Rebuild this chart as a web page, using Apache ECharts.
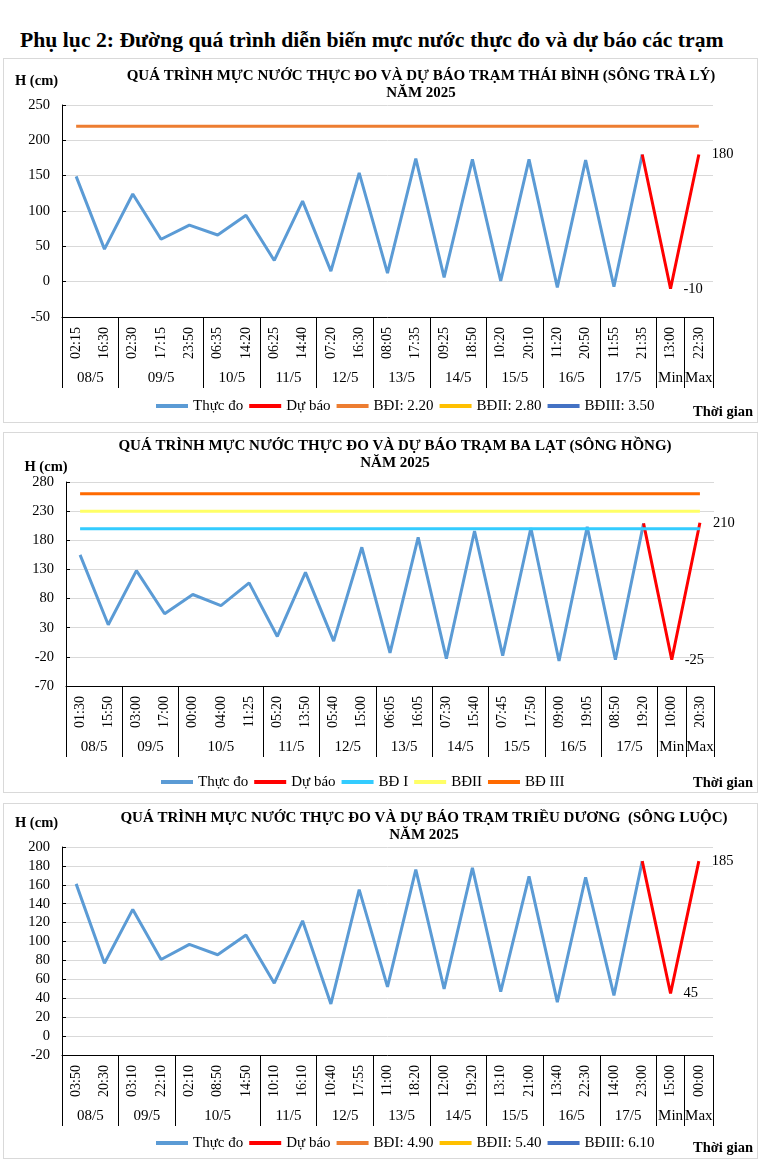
<!DOCTYPE html>
<html><head><meta charset="utf-8">
<script src="https://cdn.jsdelivr.net/npm/echarts@6/dist/echarts.min.js"></script>
<style>
body{margin:0;background:#fff;width:762px;height:1166px;position:relative;overflow:hidden;font-family:'Liberation Serif','Times New Roman',serif}
#pageTitle{position:absolute;left:20px;top:27px;font-weight:bold;font-size:21.7px;white-space:nowrap;color:#000;line-height:26px}
.panel{position:absolute;left:3px;width:755px;border:1px solid #d9d9d9;box-sizing:border-box;background:#fff}
.panel > div{width:100%;height:100%}
</style></head><body>
<div id="pageTitle">Phụ lục 2: Đường quá trình diễn biến mực nước thực đo và dự báo các trạm</div>
<div class="panel" style="top:58px;height:365px"><div id="c1"></div></div>
<div class="panel" style="top:432px;height:361px"><div id="c2"></div></div>
<div class="panel" style="top:803px;height:356px"><div id="c3"></div></div>
<script>
// ---------- DATA: Trạm Thái Bình (sông Trà Lý) ----------
const title1 = 'QUÁ TRÌNH MỰC NƯỚC THỰC ĐO VÀ DỰ BÁO TRẠM THÁI BÌNH (SÔNG TRÀ LÝ)\nNĂM 2025';
const times1 = ['02:15','16:30','02:30','17:15','23:50','06:35','14:20','06:25','14:40','07:20','16:30','08:05','17:35','09:25','18:50','10:20','20:10','11:20','20:50','11:55','21:35','13:00','22:30'];
const dates1 = ['08/5','08/5','09/5','09/5','09/5','10/5','10/5','11/5','11/5','12/5','12/5','13/5','13/5','14/5','14/5','15/5','15/5','16/5','16/5','17/5','17/5','Min','Max'];
const measured1 = [149,46,124,60,80,66,94,30,114,15,154,12,174,6,173,1,173,-8,172,-7,180,null,null];
const forecast1 = [null,null,null,null,null,null,null,null,null,null,null,null,null,null,null,null,null,null,null,null,180,-10,180];
const levelNames1 = ['BĐI: 2.20','BĐII: 2.80','BĐIII: 3.50'];
const levelValues1 = [220,280,350];
const yTicks1 = [-50,0,50,100,150,200,250];

// ---------- DATA: Trạm Ba Lạt (sông Hồng) ----------
const title2 = 'QUÁ TRÌNH MỰC NƯỚC THỰC ĐO VÀ DỰ BÁO TRẠM BA LẠT (SÔNG HỒNG)\nNĂM 2025';
const times2 = ['01:30','15:50','03:00','17:00','00:00','04:00','11:25','05:20','13:50','05:40','15:00','06:05','16:05','07:30','15:40','07:45','17:50','09:00','19:05','08:50','19:20','10:00','20:30'];
const dates2 = ['08/5','08/5','09/5','09/5','10/5','10/5','10/5','11/5','11/5','12/5','12/5','13/5','13/5','14/5','14/5','15/5','15/5','16/5','16/5','17/5','17/5','Min','Max'];
const measured2 = [155,35,128,54,87,68,107,15,125,7,168,-13,185,-23,196,-18,201,-27,203,-25,209,null,null];
const forecast2 = [null,null,null,null,null,null,null,null,null,null,null,null,null,null,null,null,null,null,null,null,209,-25,210];
const levelNames2 = ['BĐ I','BĐII','BĐ III'];
const levelValues2 = [200,230,260];
const yTicks2 = [-70,-20,30,80,130,180,230,280];

// ---------- DATA: Trạm Triều Dương (sông Luộc) ----------
const title3 = 'QUÁ TRÌNH MỰC NƯỚC THỰC ĐO VÀ DỰ BÁO TRẠM TRIỀU DƯƠNG  (SÔNG LUỘC)\nNĂM 2025';
const times3 = ['03:50','20:30','03:10','22:10','02:10','08:50','14:50','10:10','16:10','10:40','17:55','11:00','18:20','12:00','19:20','13:10','21:00','13:40','22:30','14:00','23:00','15:00','00:00'];
const dates3 = ['08/5','08/5','09/5','09/5','10/5','10/5','10/5','11/5','11/5','12/5','12/5','13/5','13/5','14/5','14/5','15/5','15/5','16/5','16/5','17/5','17/5','Min','Max'];
const measured3 = [161,77,134,81,97,86,107,56,122,34,155,52,176,50,178,47,169,36,168,43,185,null,null];
const forecast3 = [null,null,null,null,null,null,null,null,null,null,null,null,null,null,null,null,null,null,null,null,185,45,185];
const levelNames3 = ['BĐI: 4.90','BĐII: 5.40','BĐIII: 6.10'];
const levelValues3 = [490,540,610];
const yTicks3 = [-20,0,20,40,60,80,100,120,140,160,180,200];

// ---------- STYLE / LAYOUT ----------
const FONT = "'Liberation Serif','Times New Roman',serif";
const MEASURED_COLOR = '#5B9BD5';
const FORECAST_COLOR = '#FF0000';

function groupsOf(dates){
  const g = [];
  dates.forEach((d,i)=>{
    if(!g.length || g[g.length-1].name !== d) g.push({name:d,start:i,count:1});
    else g[g.length-1].count++;
  });
  return g;
}

function buildOption(c){
  const n = c.times.length;
  const gs = groupsOf(c.dates);
  const starts = new Set(gs.map(g=>g.start));
  const groupAxis = new Array(2*n+1).fill('');
  gs.forEach(g=>{ groupAxis[2*g.start+g.count] = g.name; });
  const lineBase = {type:'line', symbol:'none', smooth:false, connectNulls:false, xAxisIndex:0, yAxisIndex:0};
  const series = [
    Object.assign({}, lineBase, {name:'Thực đo', data:c.measured, color:MEASURED_COLOR, lineStyle:{width:3, color:MEASURED_COLOR}}),
    Object.assign({}, lineBase, {name:'Dự báo', data:c.forecast, color:FORECAST_COLOR, lineStyle:{width:3, color:FORECAST_COLOR},
      symbol:'circle', symbolSize:0.001, showSymbol:true,
      label:{show:true, position:'right', distance:13, fontSize:14.5, fontFamily:FONT, color:'#000',
        formatter:p=> p.dataIndex >= n-2 ? String(p.value) : ''}})
  ];
  c.levelNames.forEach((nm,k)=>{
    const v = c.levelValues[k];
    series.push(Object.assign({}, lineBase, {name:nm, data:c.times.map(()=>v), color:c.levelColors[k], lineStyle:{width:3, color:c.levelColors[k]}}));
  });
  return {
    animation:false,
    backgroundColor:'#fff',
    title:[
      {text:c.title, left:c.titleX, top:c.titleY, textAlign:'center', textVerticalAlign:'middle', padding:0,
        textStyle:{fontSize:15, fontWeight:'bold', fontFamily:FONT, color:'#000', lineHeight:17}},
      {text:'H (cm)', left:c.hX, top:c.hY, textAlign:'center', textVerticalAlign:'middle', padding:0,
        textStyle:{fontSize:14.5, fontWeight:'bold', fontFamily:FONT, color:'#000'}},
      {text:'Thời gian', left:749, top:c.tgY, textAlign:'right', textVerticalAlign:'middle', padding:0,
        textStyle:{fontSize:14.5, fontWeight:'bold', fontFamily:FONT, color:'#000'}}
    ],
    legend:{left:c.legendX, top:c.legendY, padding:0, itemWidth:32, itemHeight:4, itemGap:6, icon:'rect',
      textStyle:{fontSize:15, fontFamily:FONT, color:'#000'},
      data:series.map(s=>s.name)},
    grid:{left:c.grid[0], right:c.grid[1], top:c.grid[2], bottom:c.grid[3], containLabel:false, outerBoundsMode:'none'},
    xAxis:[
      {type:'category', data:c.times, position:'bottom', boundaryGap:true,
        axisLine:{onZero:false, lineStyle:{color:'#000', width:1}},
        axisTick:{show:true, interval:(i)=>starts.has(i), length:71, lineStyle:{color:'#000', width:1}},
        axisLabel:{interval:0, rotate:90, margin:10, fontSize:14, fontFamily:FONT, color:'#000'},
        splitLine:{show:false}},
      {type:'category', data:groupAxis, position:'bottom', boundaryGap:false,
        axisLine:{show:false, onZero:false}, axisTick:{show:false},
        axisLabel:{interval:0, margin:54, fontSize:15, fontFamily:FONT, color:'#000'},
        splitLine:{show:false}}
    ],
    yAxis:{type:'value', min:c.yTicks[0], max:c.yTicks[c.yTicks.length-1],
      axisLine:{show:true, lineStyle:{color:'#000', width:1}},
      axisTick:{show:true, inside:true, length:4, lineStyle:{color:'#000'}, customValues:c.yTicks},
      axisLabel:{fontSize:14.5, fontFamily:FONT, color:'#000', margin:12, customValues:c.yTicks},
      splitLine:{show:true, lineStyle:{color:'#d9d9d9', width:1}}},
    series:series
  };
}

const cfg1 = {title:title1, times:times1, dates:dates1, measured:measured1, forecast:forecast1,
  levelNames:levelNames1, levelValues:levelValues1, levelColors:['#ED7D31','#FFC000','#4472C4'], yTicks:yTicks1,
  titleX:417, titleY:26, hX:32.5, hY:22, tgY:353, legendX:152, legendY:339.5, grid:[58,44,46,105]};
const cfg2 = {title:title2, times:times2, dates:dates2, measured:measured2, forecast:forecast2,
  levelNames:levelNames2, levelValues:levelValues2, levelColors:['#33CCFF','#FFFF66','#FF6A00'], yTicks:yTicks2,
  titleX:391, titleY:21.5, hX:42, hY:34, tgY:350, legendX:157, legendY:341.5, grid:[62,43,49,106]};
const cfg3 = {title:title3, times:times3, dates:dates3, measured:measured3, forecast:forecast3,
  levelNames:levelNames3, levelValues:levelValues3, levelColors:['#ED7D31','#FFC000','#4472C4'], yTicks:yTicks3,
  titleX:420, titleY:23, hX:32.5, hY:19, tgY:344, legendX:152, legendY:331.5, grid:[58,44,43,103]};

[['c1',cfg1],['c2',cfg2],['c3',cfg3]].forEach(([id,c])=>{
  const ch = echarts.init(document.getElementById(id), null, {renderer:'canvas'});
  ch.setOption(buildOption(c));
});
</script>
</body></html>
